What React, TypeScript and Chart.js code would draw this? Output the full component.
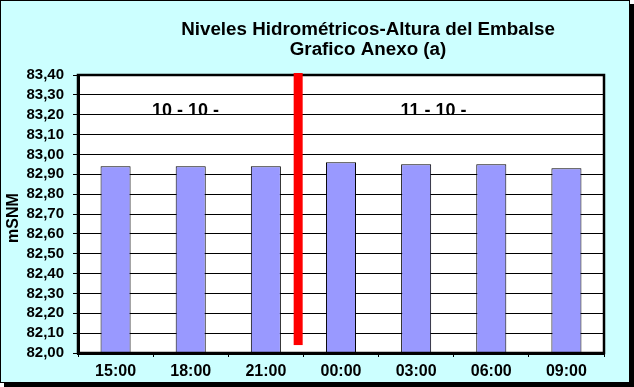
import React, { useEffect, useRef } from "react";
import { Chart, registerables } from "chart.js";

Chart.register(...registerables);

const categories = ["15:00", "18:00", "21:00", "00:00", "03:00", "06:00", "09:00"];
const levels = [82.94, 82.94, 82.94, 82.96, 82.95, 82.95, 82.93];
const yTicksMin = 82.0;
const yTicksMax = 83.4;
const yStep = 0.1;
const titleLines = ["Niveles Hidrométricos-Altura del Embalse", "Grafico Anexo (a)"];
const yAxisTitle = "mSNM";
const dayLabels = ["10 - 10 -", "11 - 10 -"];
const dayLabelIndex = [0.93, 4.23];
const dayLabelValue = 83.195;
const dividerIndex = 2.43;
const dividerRange = [82.04, 83.41];

const FONT = "'Liberation Sans', Arial, sans-serif";

export default function App() {
  const ref = useRef<HTMLCanvasElement | null>(null);
  useEffect(() => {
    document.body.style.margin = "0";
    const canvas = ref.current!;
    const decor = {
      id: "decor",
      beforeDraw(chart: any) {
        const { ctx, chartArea: a } = chart;
        ctx.save();
        ctx.fillStyle = "#000000";
        ctx.fillRect(4, 4, 630, 383);
        ctx.fillStyle = "#ccffff";
        ctx.fillRect(0, 0, 630, 383);
        ctx.strokeStyle = "#000000";
        ctx.lineWidth = 1;
        ctx.strokeRect(0.5, 0.5, 629, 382);
        ctx.fillStyle = "#ffffff";
        ctx.fillRect(a.left, a.top, a.right - a.left, a.bottom - a.top);
        ctx.restore();
      },
      afterDraw(chart: any) {
        const { ctx, chartArea: a, scales } = chart;
        const x = scales.x;
        const y = scales.y;
        ctx.save();
        ctx.strokeStyle = "#000000";
        ctx.lineWidth = 2.5;
        ctx.strokeRect(a.left, a.top, a.right - a.left, a.bottom - a.top);
        const dx = x.getPixelForValue(dividerIndex);
        const y1 = y.getPixelForValue(dividerRange[1]);
        const y0 = y.getPixelForValue(dividerRange[0]);
        ctx.fillStyle = "#ff0000";
        ctx.fillRect(dx - 4.5, y1, 9, y0 - y1);
        const clipY = y.getPixelForValue(83.2);
        ctx.save();
        ctx.beginPath();
        ctx.rect(a.left, a.top + 2, a.right - a.left, clipY - a.top - 2.5);
        ctx.clip();
        ctx.fillStyle = "#000000";
        ctx.font = `bold 18px ${FONT}`;
        ctx.textAlign = "center";
        ctx.textBaseline = "alphabetic";
        dayLabels.forEach((t, i) => {
          ctx.fillText(t, x.getPixelForValue(dayLabelIndex[i]), y.getPixelForValue(dayLabelValue));
        });
        ctx.restore();
        ctx.fillStyle = "#000000";
        ctx.font = `bold 18.8px ${FONT}`;
        ctx.textAlign = "center";
        ctx.textBaseline = "middle";
        ctx.fillText(titleLines[0], 368, 30);
        ctx.fillText(titleLines[1], 368, 50);
        ctx.save();
        ctx.translate(14, 218);
        ctx.rotate(-Math.PI / 2);
        ctx.font = `bold 16px ${FONT}`;
        ctx.fillText(yAxisTitle, 0, 0);
        ctx.restore();
        ctx.restore();
      },
    };
    const chart = new Chart(canvas, {
      type: "bar",
      data: {
        labels: categories,
        datasets: [
          {
            data: levels,
            backgroundColor: "#9999ff",
            borderColor: "#000000",
            borderWidth: 1,
            barPercentage: 0.4,
            categoryPercentage: 1,
          },
        ],
      },
      options: {
        responsive: false,
        animation: false,
        devicePixelRatio: 1,
        layout: { padding: { top: 75, right: 30, left: 0, bottom: 0 } },
        plugins: { legend: { display: false }, tooltip: { enabled: false }, title: { display: false } },
        scales: {
          x: {
            afterFit(s: any) {
              s.height = 34;
            },
            grid: {
              offset: true,
              drawOnChartArea: false,
              drawTicks: true,
              tickLength: 4,
              tickColor: "#000000",
              color: "#000000",
            },
            border: { display: true, color: "#000000", width: 3 },
            ticks: {
              color: "#000000",
              font: { family: FONT, size: 16, weight: "bold" },
              padding: 5,
              maxRotation: 0,
            },
          },
          y: {
            min: yTicksMin,
            max: yTicksMax,
            afterFit(s: any) {
              s.width = 78;
            },
            grid: {
              color: "#000000",
              lineWidth: 1,
              drawTicks: true,
              tickLength: 5,
              tickColor: "#000000",
            },
            border: { display: true, color: "#000000", width: 3 },
            ticks: {
              stepSize: yStep,
              autoSkip: false,
              color: "#000000",
              font: { family: FONT, size: 15, weight: "bold" },
              padding: 9,
              callback: (v: any) => Number(v).toFixed(2).replace(".", ","),
            },
          },
        },
      },
      plugins: [decor],
    } as any);
    return () => chart.destroy();
  }, []);
  return <canvas ref={ref} width={634} height={387} style={{ display: "block", width: 634, height: 387 }} />;
}
